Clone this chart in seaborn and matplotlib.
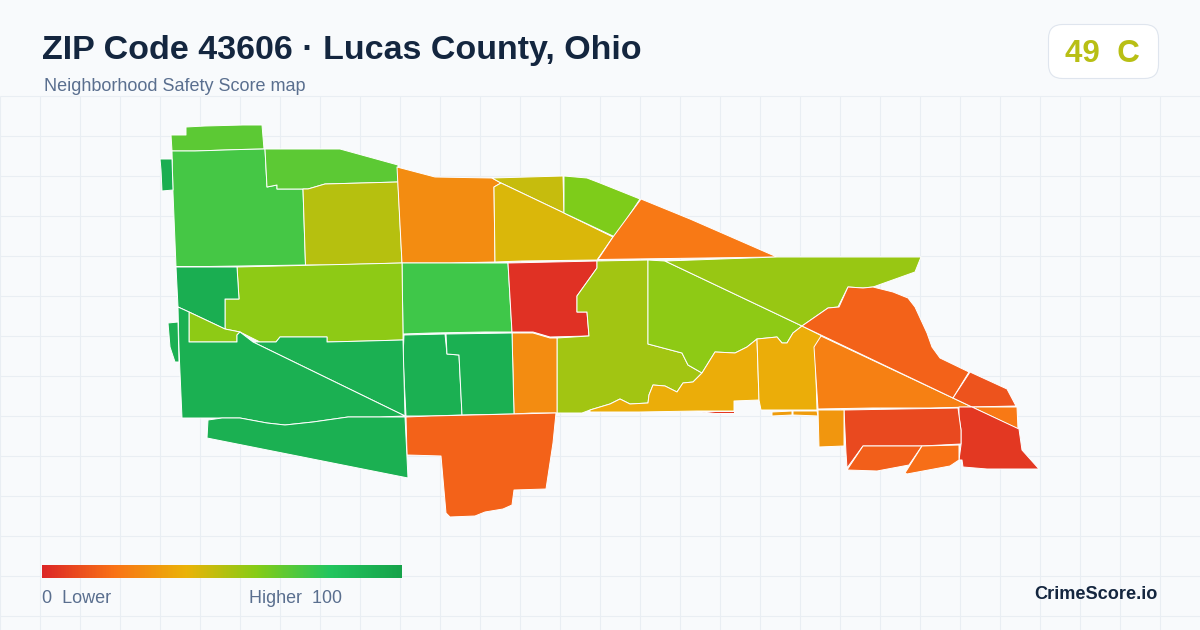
import numpy as np
import matplotlib
matplotlib.use("Agg")
import matplotlib.pyplot as plt
from matplotlib.patches import FancyBboxPatch
import seaborn as sns

# tract outlines, in picture pixels
north_strip = [(171, 135), (186, 135), (186, 127), (205, 126), (243, 125), (262, 125), (264, 149), (241, 149.5), (195, 151), (172, 151)]
west_large = [(172, 151), (195, 151), (241, 149.5), (265, 149), (267, 187), (277, 185), (277, 189), (303, 189), (305.5, 265), (273, 265.5), (208, 266.5), (176, 266.5), (173, 193)]
west_sliver = [(160, 159), (172, 159), (173, 190), (162, 191), (161, 170)]
north_mid = [(265, 149), (340, 149), (398, 165), (398, 182), (363, 183), (325, 184), (308, 189), (277, 189), (277, 185), (267, 187)]
olive_block = [(303, 189), (308, 189), (325, 184), (398, 182), (402, 263), (330, 265), (305.5, 265)]
orange_north = [(397, 167), (435, 177), (492, 178), (501, 183), (494, 187), (495, 262), (450, 263), (402, 263)]
mustard_wedge = [(492, 178), (563, 176), (564, 213), (501, 183)]
yellow_block = [(501, 183), (564, 213), (613, 237), (597, 260), (522, 261), (495, 262), (494, 187)]
lime_north = [(564, 176), (587, 178), (600, 183), (640, 199), (615, 237), (564, 213)]
orange_wedge = [(641, 199), (690, 219), (777, 257), (598, 259.5), (613, 237)]
green_mid = [(402, 263), (508, 263), (512, 332), (485, 332), (432, 333), (403, 334)]
red_block = [(508, 263), (597, 261), (597, 268), (577, 296), (577, 312), (587, 312), (589, 336), (550, 337), (533, 332), (512, 332)]
lime_center = [(597, 261), (648, 260), (648, 344), (682, 353), (688, 365), (702, 373), (693, 382), (683, 383), (677, 392), (665, 386), (653, 385), (649, 395), (648, 403), (630, 404), (620, 399), (610, 404), (590, 410), (582, 413), (557, 413), (557, 338), (589, 336), (587, 312), (577, 312), (577, 296), (597, 268)]
lime_south = [(648, 260), (665, 261), (802, 326), (793, 333), (787, 343), (782, 343), (777, 337), (757, 339), (747, 347), (735, 353), (715, 352), (702, 373), (688, 365), (682, 353), (648, 344)]
lime_east = [(665, 261), (777, 257), (921, 257), (915, 272), (873, 287), (863, 288), (848, 287), (838, 307), (828, 308), (802, 326)]
golden_west = [(715, 352), (735, 353), (747, 347), (757, 339), (759, 400), (734, 401), (734, 411), (697, 411), (640, 412), (590, 412), (590, 410), (610, 404), (620, 399), (630, 404), (648, 403), (649, 395), (653, 385), (665, 386), (677, 392), (683, 383), (693, 382), (702, 373)]
golden_east = [(757, 339), (777, 337), (782, 343), (787, 343), (793, 333), (802, 326), (822, 336), (815, 347), (817, 410), (761, 410), (759, 400)]
golden_tab_a = [(772, 412), (792, 411), (792, 415), (772, 416)]
golden_tab_b = [(793, 411), (817, 411), (818, 416), (793, 415)]
red_sliver = [(697, 411), (734, 411), (734, 413), (715, 413)]
orange_triangle = [(821, 336), (972, 407), (930, 408), (873, 408), (818, 409), (814, 347)]
orange_shore = [(802, 326), (828, 308), (839, 307), (848, 287), (863, 288), (873, 287), (893, 292), (908, 298), (915, 307), (927, 333), (932, 347), (940, 358), (969, 372), (953, 398)]
redorange_shore = [(970, 372), (1007, 389), (1016, 406), (972, 407), (953, 398)]
orange_corner = [(972, 407), (1017, 407), (1018, 429)]
red_east = [(959, 407), (972, 407), (1019, 429), (1022, 450), (1039, 469), (987, 469), (963, 467), (962, 460), (959, 460), (961, 445), (961, 430), (959, 417)]
redorange_block = [(844, 410), (958, 408), (961, 430), (961, 444), (922, 446), (863, 446), (847, 468), (846, 453)]
orange_low_a = [(863, 446), (922, 446), (909, 465), (877, 471), (847, 470)]
orange_low_b = [(922, 446), (959, 445), (959, 460), (950, 466), (907, 474), (905, 473)]
golden_block = [(818, 410), (844, 410), (844, 446), (819, 447)]
orange_center = [(512, 333), (533, 333), (550, 338), (557, 338), (557, 413), (532, 413), (514, 414)]
green_center_a = [(404, 335), (445, 334), (447, 354), (459, 355), (462, 415), (431, 416), (406, 416), (403, 357)]
green_center_b = [(446, 334), (512, 333), (514, 414), (462, 415), (459, 355), (447, 354)]
orange_south = [(406, 417), (431, 416), (514, 414), (556, 413), (553, 443), (546, 489), (514, 490), (512, 505), (503, 509), (485, 512), (475, 516), (450, 517), (446, 513), (441, 456), (407, 455)]
lime_west = [(237, 267), (402, 263), (403, 334), (403, 340), (367, 341), (327, 342), (327, 337), (280, 337), (276, 342), (260, 342), (240, 332), (225, 329), (225, 299), (239, 299)]
green_notch = [(176, 267), (237, 267), (239, 299), (225, 299), (225, 329), (189, 312), (178, 307)]
lime_notch = [(189, 312), (225, 329), (240, 332), (237, 335), (237, 342), (189, 342)]
green_upper = [(253, 342), (260, 342), (276, 342), (280, 337), (327, 337), (327, 342), (367, 341), (403, 340), (405, 416)]
green_lower = [(178, 307), (189, 312), (189, 342), (237, 342), (237, 335), (240, 332), (253, 342), (405, 416), (380, 417), (348, 417), (313, 422), (285, 425), (267, 423), (240, 418), (222, 418), (182, 418), (179, 350)]
green_bottom = [(208, 420), (222, 418), (240, 418), (267, 423), (285, 425), (313, 422), (348, 417), (380, 417), (405, 417), (408, 478), (207, 438)]
west_islet = [(168, 323), (178, 322), (179, 362), (175, 362), (170, 347)]

tracts = [north_strip, west_large, west_sliver, north_mid, olive_block, orange_north, mustard_wedge,
          yellow_block, lime_north, orange_wedge, green_mid, red_block, lime_center, lime_south,
          lime_east, golden_west, golden_east, golden_tab_a, golden_tab_b, red_sliver, orange_triangle,
          orange_shore, redorange_shore, orange_corner, red_east, redorange_block, orange_low_a,
          orange_low_b, golden_block, orange_center, green_center_a, green_center_b, orange_south,
          lime_west, green_notch, lime_notch, green_upper, green_lower, green_bottom, west_islet]
scores = [68, 73, 93, 68, 50, 28, 47, 43, 61, 22, 74, 3, 54, 58, 56, 38, 38, 33, 33, 5, 24,
          16, 12, 22, 5, 9, 15, 19, 31, 28, 92, 92, 16, 58, 93, 58, 92, 92, 92, 92]

stop_colors = ["#dc2626", "#f97316", "#eab308", "#84cc16", "#22c55e", "#16a34a"]

bg = "#f8fafc"
grid_col = "#e9eef3"
navy = "#14263f"
slate = "#5a6f8f"

sns.set_theme(style="white", rc={"figure.facecolor": bg, "axes.facecolor": bg})
plt.rcParams["font.family"] = ["Liberation Sans", "DejaVu Sans"]

cmap = sns.blend_palette(stop_colors, n_colors=256, as_cmap=True)

fig = plt.figure(figsize=(12, 6.3), dpi=100)
ax = fig.add_axes([0, 0, 1, 1])
ax.set_xlim(0, 1200)
ax.set_ylim(630, 0)
ax.axis("off")

# background grid
ax.vlines(np.arange(0, 1200, 40), 96, 630, color=grid_col, lw=0.8, zorder=1)
ax.hlines(np.arange(96, 630, 40), 0, 1200, color=grid_col, lw=0.8, zorder=1)

# the map
for poly, score in zip(tracts, scores):
    xs, ys = zip(*poly)
    ax.fill(xs, ys, facecolor=cmap(score / 100), edgecolor="white", lw=0.7, joinstyle="round", zorder=2)

# header
ax.text(42, 59, "ZIP Code 43606 · Lucas County, Ohio", fontsize=24.45, fontweight="bold", color=navy, va="baseline")
ax.text(44, 91, "Neighborhood Safety Score map", fontsize=12.95, color=slate, va="baseline")

# score badge
badge = FancyBboxPatch((1062.5, 38.5), 82, 26, boxstyle="round,pad=14,rounding_size=14",
                       fc="white", ec="#dfe5ee", lw=0.8, zorder=3)
ax.add_patch(badge)
ax.text(1065, 62, "49  C", fontsize=22.6, fontweight="bold", color="#b8bf14", va="baseline", zorder=4)

# colour scale
cax = fig.add_axes([42 / 1200, 1 - 578 / 630, 360 / 1200, 13 / 630])
legend_scores = np.linspace(0, 100, 361).reshape(1, -1)
sns.heatmap(legend_scores, cmap=cmap, vmin=0, vmax=100, cbar=False, xticklabels=False, yticklabels=False, ax=cax)

ax.text(42, 603, "0  Lower", fontsize=12.95, color=slate, va="baseline")
ax.text(249, 603, "Higher  100", fontsize=12.9, color=slate, va="baseline")
ax.text(1158, 599, "CrimeScore.io", fontsize=13.1, fontweight="bold", color=navy, ha="right", va="baseline")

fig.savefig("out.png", dpi=100, facecolor=bg)
